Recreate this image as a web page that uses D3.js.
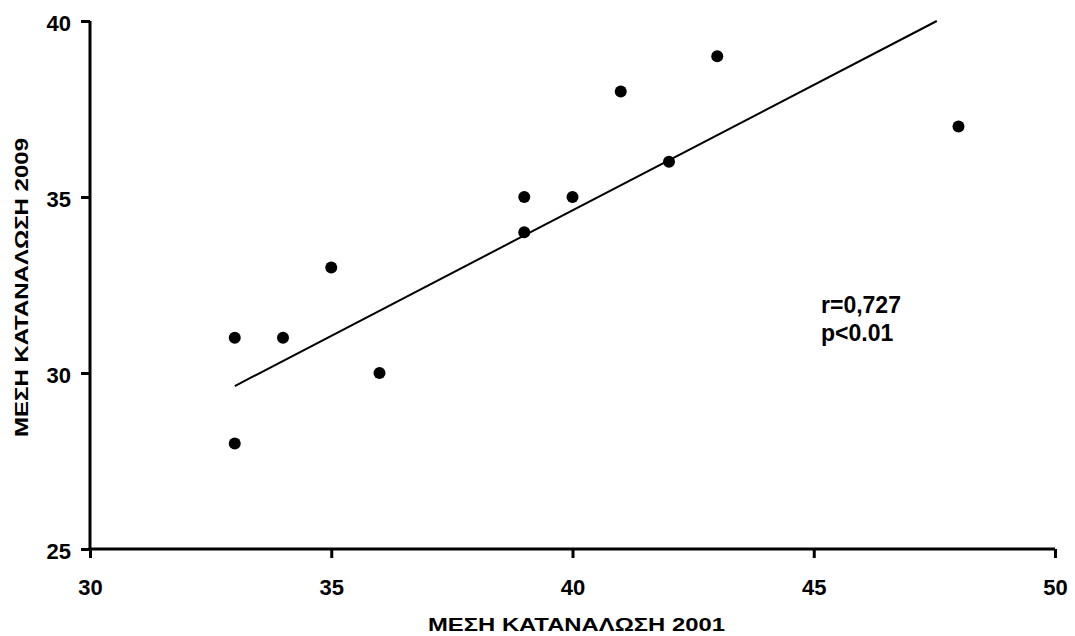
<!DOCTYPE html>
<html>
<head>
<meta charset="utf-8">
<script src="https://cdn.jsdelivr.net/npm/d3@7"></script>
<style>
body{margin:0;background:#fff;}
svg{display:block;font-family:Arial,"Liberation Sans",sans-serif;font-weight:bold;}
</style>
</head>
<body>
<svg id="chart" width="1075" height="636"></svg>
<script>
// values
var xs2001 = [33, 33, 34, 35, 36, 39, 39, 40, 41, 42, 43, 48]
var ys2009 = [31, 28, 31, 33, 30, 35, 34, 35, 38, 36, 39, 37]
var fitX = [33.0, 47.55]   // trend line ends
var fitY = [29.63, 40]
var xTicks = [30, 35, 40, 45, 50]
var yTicks = [25, 30, 35, 40]
var stats = ['r=0,727', 'p<0.01']

var svg = d3.select('#chart')
var x = d3.scaleLinear().domain([30, 50]).range([90, 1055])
var y = d3.scaleLinear().domain([25, 40]).range([549, 21])

// axes
var xa = svg.append('g').attr('transform', 'translate(0,' + y(25) + ')')
  .call(d3.axisBottom(x).tickValues(xTicks).tickSize(9).tickPadding(21).tickSizeOuter(0))
var ya = svg.append('g').attr('transform', 'translate(' + x(30) + ',0)')
  .call(d3.axisLeft(y).tickValues(yTicks).tickSize(9).tickPadding(10).tickSizeOuter(0))
;[xa, ya].forEach(function(a){
  a.attr('font-size', null).attr('font-family', null)
  a.selectAll('path,line').attr('stroke', '#000').attr('stroke-width', 3)
  a.selectAll('text').attr('fill', '#000').style('font-size', '22px')
})
ya.selectAll('text').attr('dy', '0.45em')
xa.select('.domain').attr('d', 'M' + (x(30) - 1.5) + ',0H' + x(50))
ya.select('.domain').attr('d', 'M0,' + y(40) + 'V' + (y(25) + 1.5))

// trend line
svg.append('path')
  .datum(d3.zip(fitX, fitY))
  .attr('d', d3.line().x(function(d){ return x(d[0]) }).y(function(d){ return y(d[1]) }))
  .attr('stroke', '#000').attr('stroke-width', 2).attr('fill', 'none')

// points
svg.selectAll('circle.pt').data(d3.zip(xs2001, ys2009)).enter().append('circle')
  .attr('class', 'pt')
  .attr('cx', function(d){ return x(d[0]) })
  .attr('cy', function(d){ return y(d[1]) })
  .attr('r', 6).attr('fill', '#000')

// stats
svg.selectAll('text.st').data(stats).enter().append('text')
  .attr('class', 'st')
  .attr('x', 821).attr('y', function(d, i){ return 313 + i * 27.5 })
  .style('font-size', '23px').text(function(d){ return d })

// axis titles (glyphs in the original are drawn a bit wide)
svg.append('text').attr('x', 576.5).attr('y', 630.5).attr('text-anchor', 'middle')
  .attr('textLength', 297).attr('lengthAdjust', 'spacingAndGlyphs')
  .style('font-size', '19px').text('ΜΕΣΗ ΚΑΤΑΝΑΛΩΣΗ 2001')
svg.append('text').attr('transform', 'translate(27.5,287.5) rotate(-90)').attr('text-anchor', 'middle')
  .attr('textLength', 299).attr('lengthAdjust', 'spacingAndGlyphs')
  .style('font-size', '19px').text('ΜΕΣΗ ΚΑΤΑΝΑΛΩΣΗ 2009')
</script>
</body>
</html>
